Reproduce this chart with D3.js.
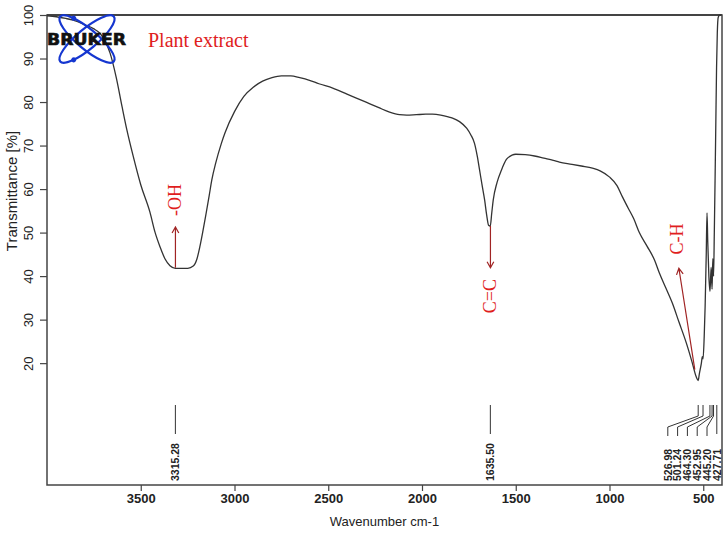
<!DOCTYPE html>
<html>
<head>
<meta charset="utf-8">
<script src="https://cdn.jsdelivr.net/npm/d3@7"></script>
<style>
  body { margin: 0; background: #fff; }
  svg { display: block; background: #fff; }
</style>
</head>
<body>
<div class="chart"></div>
<script>
// IR spectrum of the plant extract (cm-1, %T)
var wavenumbers = [4000, 3950, 3900, 3860, 3800, 3750, 3718, 3690, 3664, 3630, 3600, 3574, 3540, 3500,
  3451, 3424, 3397, 3371, 3344, 3315, 3291, 3249, 3220, 3200, 3185, 3170, 3153, 3135, 3121, 3100,
  3070, 3050, 3000, 2950, 2900, 2850, 2800, 2750, 2700, 2652, 2600, 2550, 2476, 2400, 2350, 2295,
  2230, 2173, 2120, 2082, 2030, 1980, 1944, 1900, 1860, 1837, 1800, 1762, 1740, 1720, 1705, 1693,
  1680, 1666, 1655, 1645, 1636, 1628, 1620, 1600, 1576, 1550, 1520, 1500, 1450, 1400, 1350, 1300,
  1267, 1200, 1150, 1091, 1050, 1001, 960, 931, 900, 870, 841, 800, 760, 734, 700, 665, 630, 590,
  560, 537, 527, 521, 510, 505, 501, 495, 490, 484, 480, 476, 470, 464, 458, 453, 449, 445, 441,
  437, 433, 429, 425, 420, 412, 405];
var transmittance = [99.8, 99.6, 99.2, 98.8, 97.8, 96.8, 95.8, 94.0, 91.3, 85.5, 79.0, 73.6, 67.5, 61.0,
  54.7, 50.1, 46.7, 44.0, 42.4, 41.8, 41.8, 41.8, 42.3, 44.0, 46.7, 50.0, 54.0, 58.5, 62.1, 66.0,
  70.5, 73.0, 77.8, 81.3, 83.4, 84.8, 85.6, 86.0, 86.0, 85.6, 85.0, 84.2, 83.2, 81.8, 80.9, 79.9,
  78.7, 77.7, 77.1, 77.0, 77.1, 77.2, 77.2, 77.0, 76.6, 76.3, 75.5, 74.0, 72.5, 70.5, 67.5, 64.4,
  61.0, 57.5, 54.0, 51.7, 51.5, 54.5, 57.5, 61.5, 64.4, 66.8, 67.8, 68.0, 67.9, 67.6, 67.1, 66.6,
  66.2, 65.7, 65.3, 64.8, 64.2, 62.8, 60.8, 58.2, 55.6, 53.1, 50.0, 46.9, 43.7, 40.7, 37.3, 33.8, 29.5, 24.6,
  20.3, 16.8, 16.0, 17.5, 20.0, 21.5, 21.0, 26.0, 33.0, 45.0, 54.5, 48.0, 40.0, 36.5, 42.0, 37.0, 44.0, 40.0, 50.0,
  62.0, 75.0, 88.0, 96.0, 99.5, 100, 100];

// peak table printed under the curve
var peakWavenumbers = [3315.28, 1635.50, 526.98, 501.24, 464.30, 452.95, 445.20, 427.71];

// band assignments: label, arrow from/to (cm-1, %T), label centre (cm-1, %T)
var bandNames = ["-OH", "C=C", "C-H"];
var bandArrowFrom = [[3315, 41.9], [1635, 51.5], [545, 18.5]];
var bandArrowTo = [[3315, 51.3], [1635, 41.9], [630, 41.8]];
var bandLabelAt = [[3315, 57.5], [1635, 35.4], [640, 48.5]];

var xTicks = [3500, 3000, 2500, 2000, 1500, 1000, 500];
var yTicks = [20, 30, 40, 50, 60, 70, 80, 90, 100];

var svgWidth = 725;
var svgHeight = 550;
var margin = {top: 15, right: 3, bottom: 65, left: 47};

var svg = d3.select(".chart")
  .append("svg")
  .attr("width", svgWidth)
  .attr("height", svgHeight);

var x = d3.scaleLinear()
  .domain([4000, 400])
  .range([margin.left, svgWidth - margin.right]);

var y = d3.scaleLinear()
  .domain([-8, 100])
  .range([svgHeight - margin.bottom, margin.top]);

var frameColor = "#444";

// y axis, labels turned on their side
var yAxis = svg.append("g")
  .attr("transform", "translate(" + margin.left + ",0)")
  .call(d3.axisLeft(y).tickValues(yTicks).tickSize(7).tickFormat(d3.format("d")));
yAxis.select(".domain").remove();
yAxis.selectAll("line").attr("stroke", frameColor).attr("stroke-width", 1.2);
yAxis.selectAll("text")
  .attr("x", null).attr("dy", null)
  .attr("text-anchor", "middle")
  .attr("transform", "translate(-14,0) rotate(-90)")
  .attr("fill", "#222")
  .style("font-family", "'Liberation Sans', Arial, sans-serif")
  .style("font-size", "13px");

// x axis
var xAxis = svg.append("g")
  .attr("transform", "translate(0," + (svgHeight - margin.bottom) + ")")
  .call(d3.axisBottom(x).tickValues(xTicks).tickSize(6).tickPadding(3).tickFormat(d3.format("d")));
xAxis.select(".domain").remove();
xAxis.selectAll("line").attr("stroke", frameColor).attr("stroke-width", 1.2);
xAxis.selectAll("text")
  .attr("fill", "#222")
  .style("font-family", "'Liberation Sans', Arial, sans-serif")
  .style("font-size", "13px")
  .style("font-weight", "bold");

// axis titles
svg.append("text")
  .attr("x", (margin.left + svgWidth - margin.right) / 2)
  .attr("y", 526)
  .attr("text-anchor", "middle")
  .attr("fill", "#222")
  .style("font-family", "'Liberation Sans', Arial, sans-serif")
  .style("font-size", "13px")
  .text("Wavenumber cm-1");

svg.append("text")
  .attr("transform", "translate(17,191) rotate(-90)")
  .attr("text-anchor", "middle")
  .attr("fill", "#222")
  .style("font-family", "'Liberation Sans', Arial, sans-serif")
  .style("font-size", "15px")
  .text("Transmittance [%]");

// plot frame
svg.append("rect")
  .attr("x", margin.left)
  .attr("y", margin.top)
  .attr("width", svgWidth - margin.left - margin.right)
  .attr("height", svgHeight - margin.top - margin.bottom)
  .attr("fill", "none")
  .attr("stroke", frameColor)
  .attr("stroke-width", 1.5);
svg.append("line")
  .attr("x1", margin.left).attr("x2", svgWidth - margin.right)
  .attr("y1", margin.top).attr("y2", margin.top)
  .attr("stroke", frameColor)
  .attr("stroke-width", 2.2);

// spectrum
var spectrum = wavenumbers.map(function(d, i) { return [d, transmittance[i]]; });

var line = d3.line()
  .x(function(d) { return x(d[0]); })
  .y(function(d) { return y(d[1]); })
  .curve(d3.curveMonotoneX);

svg.append("path")
  .attr("d", line(spectrum))
  .attr("fill", "none")
  .attr("stroke", "#333")
  .attr("stroke-width", 1.3);

// peak markers; crowded ones fan out to the left
var peakX = peakWavenumbers.map(function(d) { return x(d); });
var labelX = peakX.slice();
for (var i = labelX.length - 2; i >= 0; i--) {
  if (labelX[i] > labelX[i + 1] - 9.8) labelX[i] = labelX[i + 1] - 9.8;
}

var peaks = svg.append("g");
peaks.selectAll("path")
  .data(peakWavenumbers)
  .enter().append("path")
    .attr("d", function(d, i) {
      if (labelX[i] === peakX[i]) return "M" + peakX[i] + ",405V434";
      return "M" + peakX[i] + ",405V416L" + labelX[i] + ",427V436";
    })
    .attr("fill", "none")
    .attr("stroke", "#333")
    .attr("stroke-width", 1);

peaks.selectAll("text")
  .data(peakWavenumbers)
  .enter().append("text")
    .attr("transform", function(d, i) {
      return "translate(" + (labelX[i] + 3.8) + ",481) rotate(-90)";
    })
    .attr("fill", "#222")
    .style("font-family", "'Liberation Sans', Arial, sans-serif")
    .style("font-size", "10.5px")
    .style("font-weight", "bold")
    .text(function(d) { return d.toFixed(2); });

// band assignments in red
var bands = svg.append("g");
bandNames.forEach(function(name, i) {
  var x1 = x(bandArrowFrom[i][0]), y1 = y(bandArrowFrom[i][1]);
  var x2 = x(bandArrowTo[i][0]), y2 = y(bandArrowTo[i][1]);
  var a = Math.atan2(y2 - y1, x2 - x1);
  var head = 7, spread = 0.5;
  bands.append("path")
    .attr("d", "M" + x1 + "," + y1 + "L" + x2 + "," + y2 +
      "M" + (x2 - head * Math.cos(a - spread)) + "," + (y2 - head * Math.sin(a - spread)) +
      "L" + x2 + "," + y2 +
      "L" + (x2 - head * Math.cos(a + spread)) + "," + (y2 - head * Math.sin(a + spread)))
    .attr("fill", "none")
    .attr("stroke", "#a02424")
    .attr("stroke-width", 1.2);

  bands.append("text")
    .attr("transform", "translate(" + (x(bandLabelAt[i][0]) + 6) + "," + y(bandLabelAt[i][1]) + ") rotate(-90)")
    .attr("text-anchor", "middle")
    .attr("fill", "#e01e1e")
    .style("font-family", "'Liberation Serif', 'Times New Roman', serif")
    .style("font-size", "18px")
    .text(name);
});

// Bruker logo and sample title
var logo = svg.append("g").attr("transform", "translate(87,39)");
[40, -40].forEach(function(angle) {
  var g = logo.append("g").attr("transform", "rotate(" + angle + ")");
  g.append("ellipse")
    .attr("rx", 35).attr("ry", 10)
    .attr("fill", "none")
    .attr("stroke", "#1536d0")
    .attr("stroke-width", 2.2);
  g.append("circle")
    .attr("cx", -23.5).attr("cy", angle > 0 ? -7.4 : 7.4)
    .attr("r", 2.5)
    .attr("fill", "#1536d0");
});

svg.append("text")
  .attr("x", 47)
  .attr("y", 45)
  .attr("textLength", 79)
  .attr("lengthAdjust", "spacingAndGlyphs")
  .attr("fill", "#111")
  .attr("stroke", "#111")
  .attr("stroke-width", 0.6)
  .style("font-family", "'DejaVu Sans', sans-serif")
  .style("font-size", "15px")
  .style("font-weight", "bold")
  .text("BRUKER");

svg.append("text")
  .attr("x", 148)
  .attr("y", 47)
  .attr("fill", "#e01e1e")
  .style("font-family", "'Liberation Serif', 'Times New Roman', serif")
  .style("font-size", "20px")
  .text("Plant extract");
</script>
</body>
</html>
